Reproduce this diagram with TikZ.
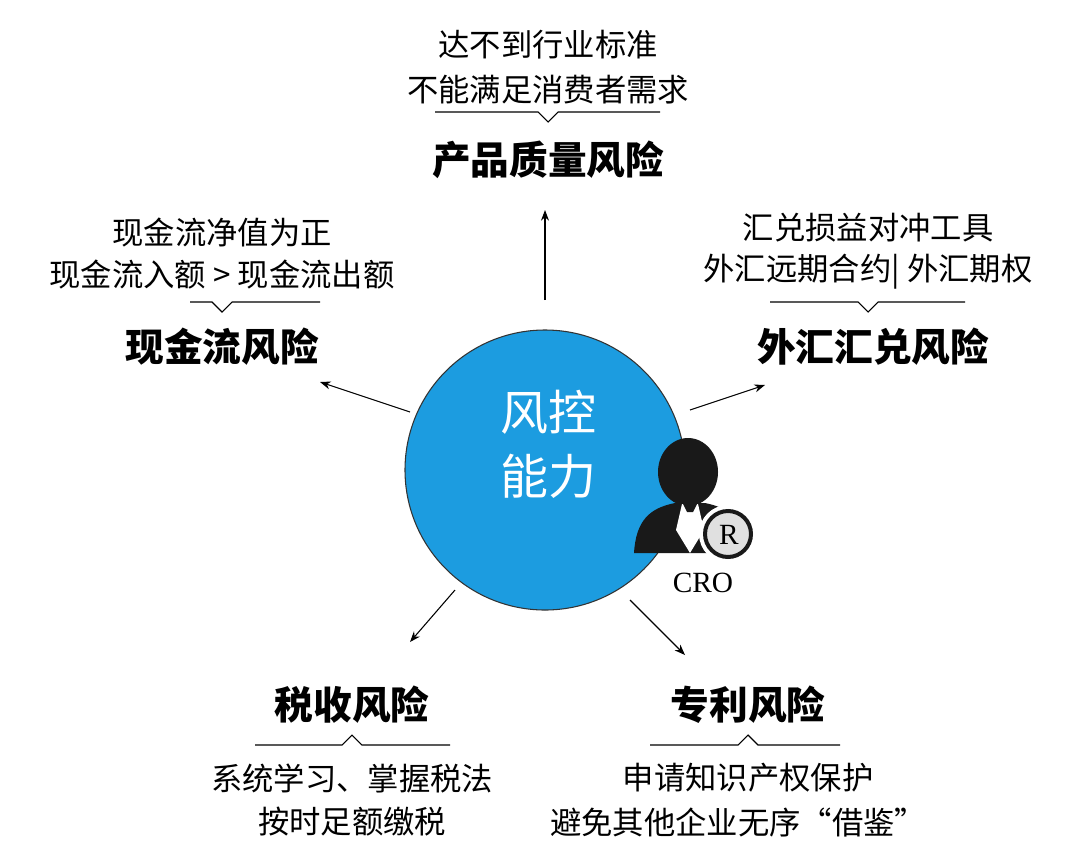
\documentclass[tikz,border=0pt]{standalone}
\usepackage{fontspec}
\usetikzlibrary{arrows.meta}
\newfontfamily\cjk{Noto Sans CJK SC}
\setmainfont{Liberation Serif}
\begin{document}
\begin{tikzpicture}[x=0.75pt,y=-0.75pt,
  sub/.style={font=\cjk\fontsize{23.5}{28}\selectfont},
  ttl/.style={font=\cjk\fontsize{29}{34}\selectfont\bfseries},
  arr/.style={-{Stealth[length=8pt,width=6pt]},line width=0.8pt},
  br/.style={line width=0.8pt}]
\useasboundingbox (0,0) rectangle (1080,853);
\fill[white] (0,0) rectangle (1080,853);
\node[circle,draw=black!80,line width=0.8pt,fill={rgb,255:red,28;green,156;blue,224},minimum size=210pt,inner sep=0] (c) at (545,470) {};
\node[font=\cjk\fontsize{36}{42}\selectfont,text=white,align=center] (ct) at (548,444) {风控\\[6pt]能力};
% arrows
\coordinate (a1) at (545,300); \coordinate (b1) at (545,210);
\coordinate (a2) at (410,412); \coordinate (b2) at (320,382);
\coordinate (a3) at (690,410); \coordinate (b3) at (765,385);
\coordinate (a4) at (455,590); \coordinate (b4) at (410,642);
\coordinate (a5) at (630,600); \coordinate (b5) at (685,655);
\foreach \i in {1,...,5} \draw[arr] (a\i) -- (b\i);
% top
\node[sub] (t1) at (548,45) {达不到行业标准};
\node[sub] (t2) at (548,90) {不能满足消费者需求};
\draw[br] (435,112) -- (538,112) -- (548,122) -- (558,112) -- (660,112);
\node[ttl] (t3) at (548,160) {产品质量风险};
% left
\node[sub] (l1) at (222,232) {现金流净值为正};
\node[sub] (l2) at (222,275) {现金流入额 > 现金流出额};
\draw[br] (190,302) -- (212,302) -- (222,312) -- (232,302) -- (320,302);
\node[ttl] (l3) at (222,347) {现金流风险};
% right
\node[sub] (r1) at (868,228) {汇兑损益对冲工具};
\node[sub] (r2) at (868,272) {外汇远期合约| 外汇期权};
\draw[br] (770,302) -- (858,302) -- (868,312) -- (878,302) -- (965,302);
\node[ttl] (r3) at (873,347) {外汇汇兑风险};
% bottom left
\node[ttl] (bl1) at (352,705) {税收风险};
\draw[br] (255,745) -- (342,745) -- (352,735) -- (362,745) -- (450,745);
\node[sub] (bl2) at (352,778) {系统学习、掌握税法};
\node[sub] (bl3) at (352,822) {按时足额缴税};
% bottom right
\node[ttl] (br1) at (748,705) {专利风险};
\draw[br] (650,745) -- (738,745) -- (748,735) -- (758,745) -- (840,745);
\node[sub] (br2) at (748,778) {申请知识产权保护};
\node[sub] (br3) at (738,822) {避免其他企业无序“借鉴”};
% CRO icon
\fill[black!90] (634,553) .. controls (636,520) and (650,508) .. (675,503) -- (705,503) .. controls (730,508) and (744,520) .. (746,553) -- cycle;
\fill[black!90] (688,472) ellipse [x radius=30,y radius=34];
\fill[white] (682,504) -- (698,504) -- (704,530) -- (690,553) -- (676,530) -- cycle;
\fill[black!90] (683,504) -- (697,504) -- (693,512) -- (687,512) -- cycle;
\fill[white] (728,534) circle (29);
\draw[black!90,fill=black!12,line width=3pt] (728,534) circle (23);
\node[font=\fontsize{22}{24}\selectfont] (rr) at (729,535) {R};
\node[font=\fontsize{22}{24}\selectfont] (cro) at (703,583) {CRO};
\end{tikzpicture}
\end{document}
